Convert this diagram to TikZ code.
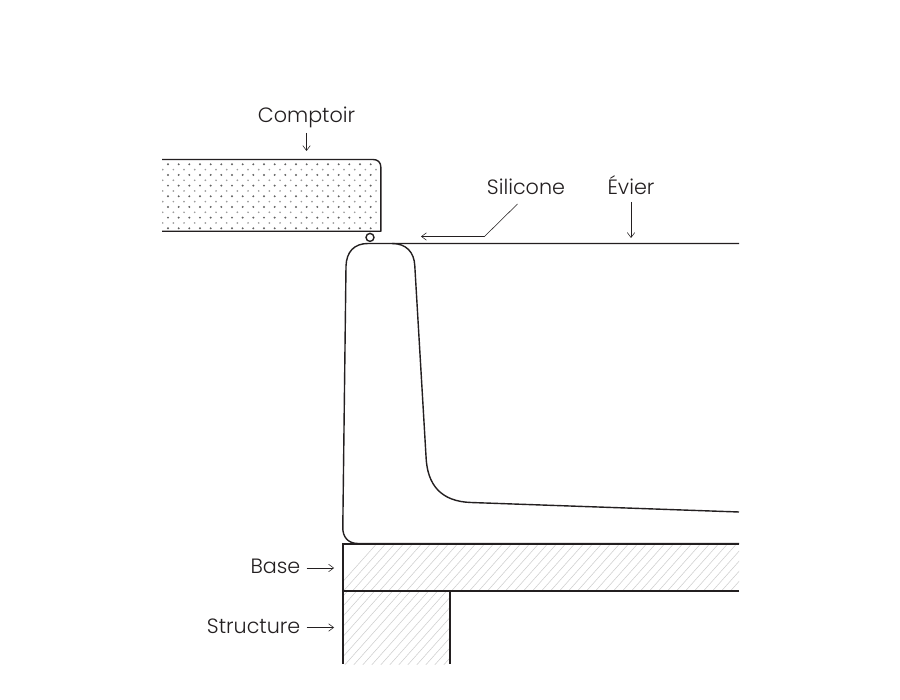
\documentclass[tikz,border=0pt]{standalone}
\usepackage{fontspec}
\setmainfont{Poppins}[UprightFont=* Light]
\usetikzlibrary{arrows.meta}
\definecolor{ink}{HTML}{231F20}
\tikzset{
  x=1pt,y=-1pt,
  outline/.style={draw=ink,line width=1.4pt,line join=round},
  frame/.style={draw=ink,line width=1.5pt,line join=miter},
  lead/.style={draw=ink,line width=0.55pt,-{Straight Barb[length=5pt,width=7.5pt,line width=0.55pt]}},
  hatch/.style={draw=black!20,line width=0.5pt},
  label/.style={font=\fontsize{20.7}{24}\selectfont,text=ink,inner sep=0pt,anchor=base}
}
\begin{document}
\begin{tikzpicture}
\useasboundingbox (0,0) rectangle (900,700);
\fill[white] (0,0) rectangle (900,700);
% countertop dots
\begin{scope}
\clip (162,160) rectangle (380,231);
\foreach \r in {0,...,12}{
  \pgfmathsetmacro{\yy}{164.3+5.333*\r}
  \pgfmathsetmacro{\xs}{isodd(\r)?162.7:168}
  \pgfmathsetmacro{\dk}{isodd(\r)?38:62}
  \pgfmathsetmacro{\rd}{isodd(\r)?0.95:1.1}
  \foreach \c in {0,...,20}{
    \fill[black!\dk] ({\xs+10.667*\c},\yy) circle (\rd);
  }
}
\end{scope}
% hatch base + structure
\begin{scope}
\clip (343,544) rectangle (739,591);
\foreach \k in {0,...,50}{
  \draw[hatch] ({330+9*\k},596) -- ({330+9*\k+50},540);
}
\end{scope}
\begin{scope}
\clip (343,591) rectangle (450,664);
\foreach \k in {0,...,22}{
  \draw[hatch] ({270+9*\k},668) -- ({270+9*\k+73},586);
}
\end{scope}
% countertop
\draw[outline] (162,159.5) -- (373,159.5) .. controls (378,159.5) and (380.8,162.5) .. (380.8,167) -- (380.8,231.3) -- (162,231.3);
% silicone bead
\node[circle,draw=ink,line width=1.4pt,minimum size=8pt,inner sep=0pt,fill=white] (bead) at (370,237.4) {};
% sink
\draw[outline] (739,243.5) -- (368,243.5)
  .. controls (354,243.5) and (346.5,252) .. (346,266)
  -- (342.8,527)
  .. controls (342.5,537) and (348,543.5) .. (358,543.5)
  -- (739,543.5);
\draw[outline] (392,243.5) .. controls (406,243.5) and (414.3,252) .. (414.8,266)
  -- (426,456)
  .. controls (427,485) and (441,501.5) .. (471,502.5)
  -- (739,512);
% base and structure
\draw[frame] (739,544.1) -- (343,544.1) -- (343,664);
\draw[frame] (343,591.2) -- (739,591.2);
\draw[frame] (450.1,591.2) -- (450.1,664);
% labels
\node[label] (comptoir) at (306.5,123) {Comptoir};
\node[label] (silicone) at (526,195) {Silicone};
\node[label] (evier) at (631,195) {Évier};
\node[label,anchor=base east] (base) at (300.5,573.5) {Base};
\node[label,anchor=base east] (structure) at (300.5,633) {Structure};
% leaders
\coordinate (comptoirA) at (306.5,133);
\coordinate (comptoirB) at (306.5,151);
\coordinate (silA) at (517.5,204);
\coordinate (silK) at (484.5,236.5);
\coordinate (silB) at (421,236.5);
\coordinate (evA) at (631,202);
\coordinate (evB) at (631,238);
\coordinate (baA) at (306.5,568);
\coordinate (baB) at (334,568);
\coordinate (stA) at (306.5,627.5);
\coordinate (stB) at (334,627.5);
\draw[lead] (comptoirA) -- (comptoirB);
\draw[lead] (silA) -- (silK) -- (silB);
\draw[lead] (evA) -- (evB);
\draw[lead] (baA) -- (baB);
\draw[lead] (stA) -- (stB);
\end{tikzpicture}
\end{document}
